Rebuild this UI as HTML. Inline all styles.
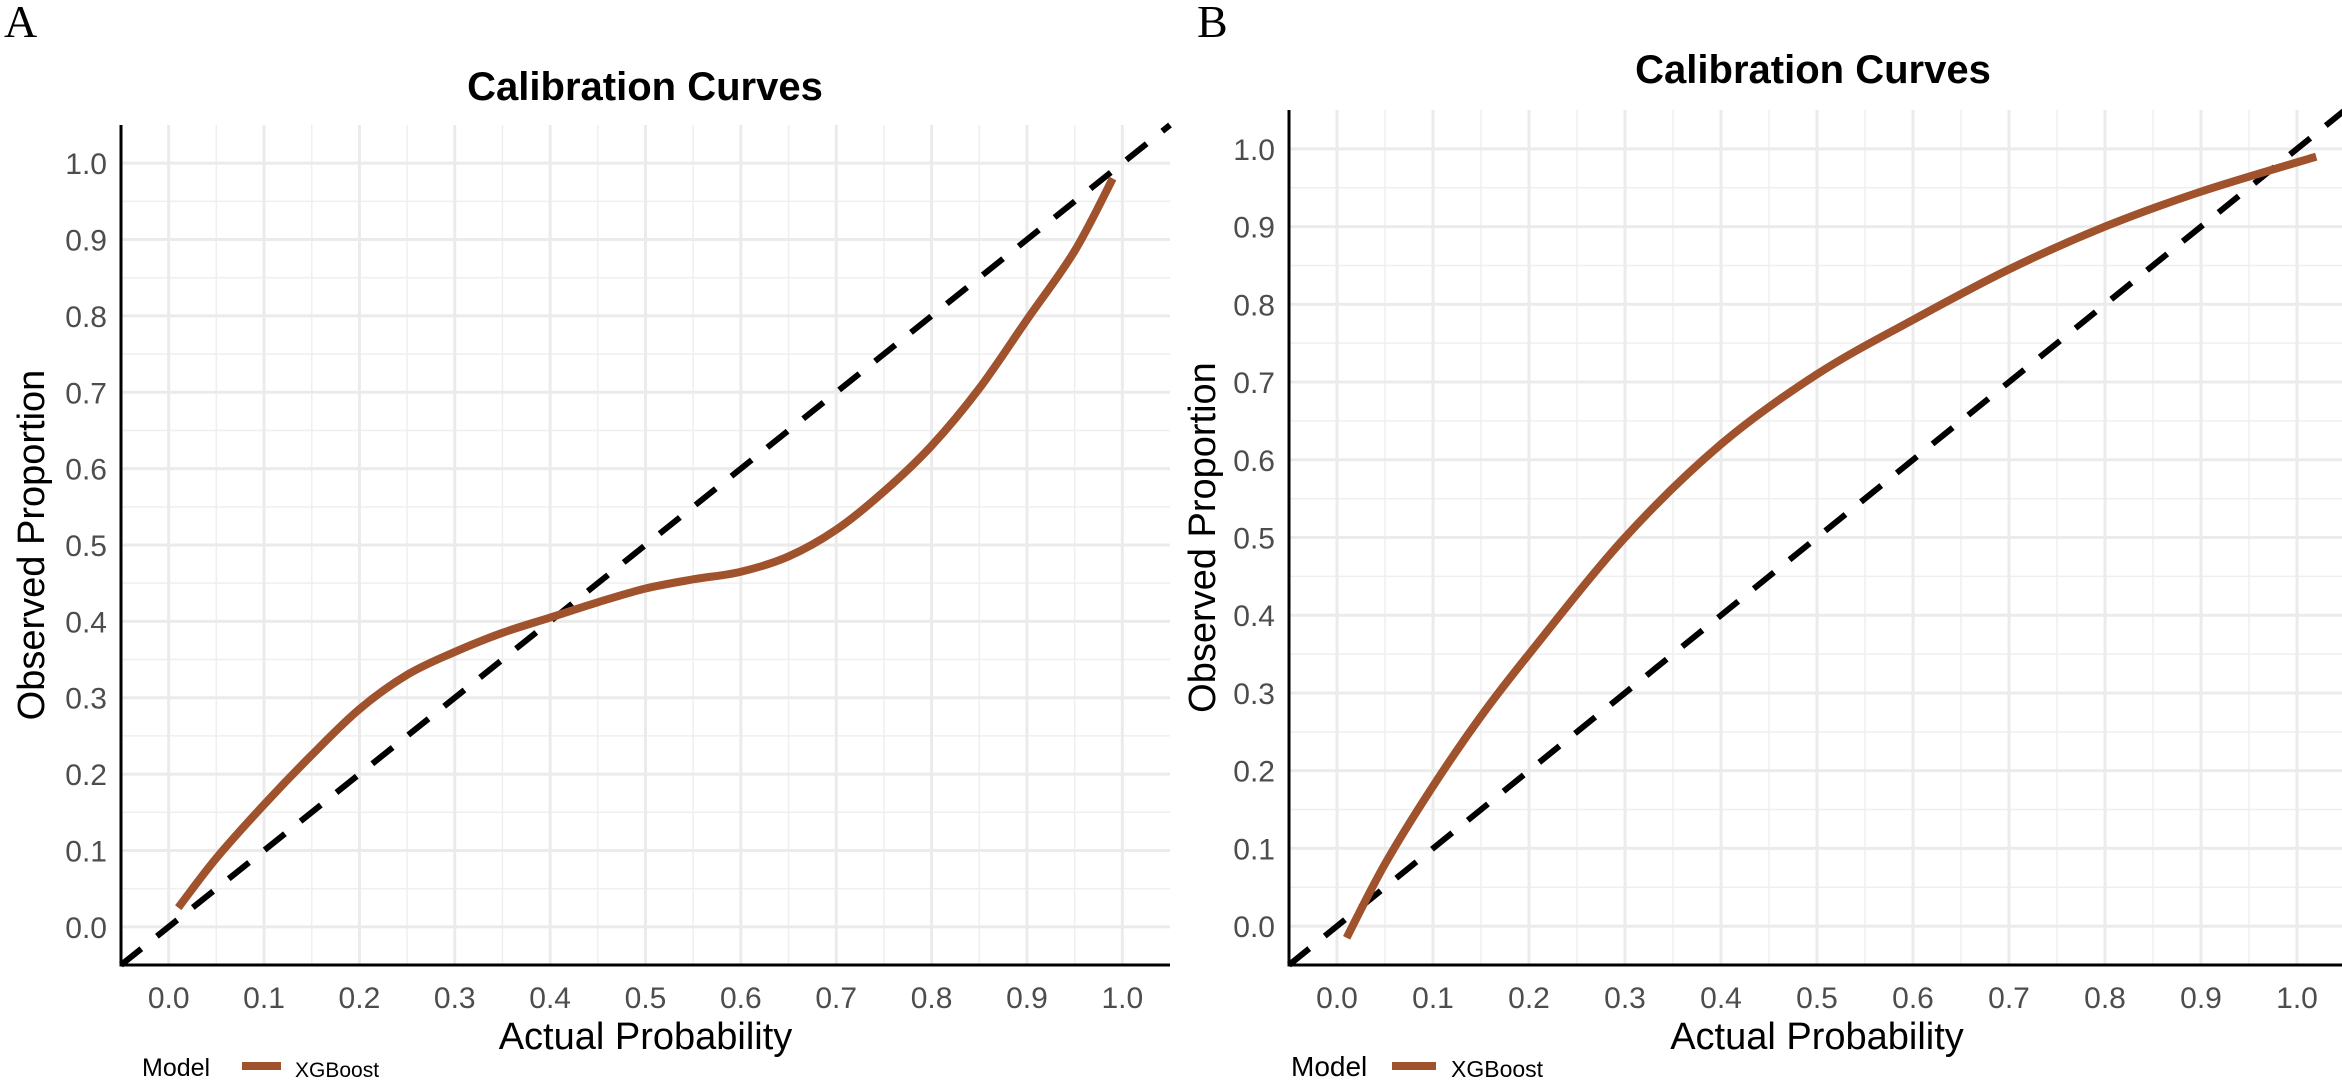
<!DOCTYPE html>
<html><head><meta charset="utf-8"><style>
html,body{margin:0;padding:0;background:#fff;}
svg{display:block;font-family:"Liberation Sans",Arial,sans-serif;}
</style></head><body>
<svg id="fig" width="2342" height="1089" viewBox="0 0 2342 1089" xmlns="http://www.w3.org/2000/svg">
<text x="4" y="37" font-family="Liberation Serif,serif" font-size="46">A</text>
<text x="1197" y="37" font-family="Liberation Serif,serif" font-size="46">B</text>
</svg>
<script>
// Panel A data
const xA = [0.01,0.05,0.1,0.15,0.2,0.25,0.3,0.35,0.4,0.45,0.5,0.55,0.6,0.65,0.7,0.75,0.8,0.85,0.9,0.95,0.99];
const yA = [0.025,0.09,0.16,0.225,0.285,0.33,0.36,0.385,0.405,0.425,0.443,0.455,0.465,0.485,0.52,0.57,0.63,0.705,0.795,0.885,0.98];
// Panel B data
const xB = [0.01,0.05,0.1,0.15,0.2,0.3,0.4,0.5,0.6,0.7,0.8,0.9,1.02];
const yB = [-0.015,0.08,0.18,0.27,0.35,0.5,0.62,0.71,0.78,0.845,0.9,0.945,0.99];
const ticks = [0,0.1,0.2,0.3,0.4,0.5,0.6,0.7,0.8,0.9,1.0];
const tickLabels = ["0.0","0.1","0.2","0.3","0.4","0.5","0.6","0.7","0.8","0.9","1.0"];
const refLine = [-0.05,1.05];

const NS="http://www.w3.org/2000/svg";
const svg=document.getElementById('fig');
function mk(tag,attrs,parent){const e=document.createElementNS(NS,tag);for(const k in attrs)e.setAttribute(k,attrs[k]);(parent||svg).appendChild(e);return e;}

function panel(p){
  const g=mk('g',{});
  
  
  const sx=v=>p.left+(v+0.05)/1.1*(p.right-p.left);
  const sy=v=>p.bottom-(v+0.05)/1.1*(p.bottom-p.top);
  for(let i=0;i<10;i++){
    const v=0.05+i*0.1;
    const l=mk('line',{x1:sx(v),x2:sx(v),y1:p.top,y2:p.bottom,stroke:'#efefef','stroke-width':1.5},g);
    
    
    const l2=mk('line',{x1:p.left,x2:p.right,y1:sy(v),y2:sy(v),stroke:'#efefef','stroke-width':1.5},g);
    
    
  }
  ticks.forEach((v,i)=>{
    const l=mk('line',{x1:sx(v),x2:sx(v),y1:p.top,y2:p.bottom,stroke:'#ebebeb','stroke-width':3},g);
    
    
    const l2=mk('line',{x1:p.left,x2:p.right,y1:sy(v),y2:sy(v),stroke:'#ebebeb','stroke-width':3},g);
    
    
    const t=mk('text',{x:sx(v),y:1008,'text-anchor':'middle','font-size':30,fill:'#4d4d4d'},g);
    t.textContent=tickLabels[i];
    
    
    const t2=mk('text',{x:p.left-14,y:sy(v)+11,'text-anchor':'end','font-size':30,fill:'#4d4d4d'},g);
    t2.textContent=tickLabels[i];
    
    
  });
  const ax=mk('line',{x1:p.left,x2:p.left,y1:p.top,y2:p.bottom+1.5,stroke:'#000','stroke-width':3},g);
  
  
  const ax2=mk('line',{x1:p.left,x2:p.right,y1:p.bottom,y2:p.bottom,stroke:'#000','stroke-width':3},g);
  
  
  const d=mk('line',{x1:sx(refLine[0]),y1:sy(refLine[0]),x2:sx(refLine[1]),y2:sy(refLine[1]),stroke:'#000','stroke-width':6,'stroke-dasharray':'26 20'},g);
  
  
  const pts=p.xs.map((x,i)=>[sx(x),sy(p.ys[i])]);
  let dstr='M'+pts[0][0]+','+pts[0][1];
  for(let i=0;i<pts.length-1;i++){
    const p0=pts[Math.max(i-1,0)],p1=pts[i],p2=pts[i+1],p3=pts[Math.min(i+2,pts.length-1)];
    const c1=[p1[0]+(p2[0]-p0[0])/6,p1[1]+(p2[1]-p0[1])/6];
    const c2=[p2[0]-(p3[0]-p1[0])/6,p2[1]-(p3[1]-p1[1])/6];
    dstr+=` C${c1[0]},${c1[1]} ${c2[0]},${c2[1]} ${p2[0]},${p2[1]}`;
  }
  const c=mk('path',{d:dstr,fill:'none',stroke:'#a0522d','stroke-width':8},g);
  
  
  const tt=mk('text',{x:p.titleX,y:p.titleY,'text-anchor':'middle','font-size':40,'font-weight':'bold',fill:'#000'},g);
  tt.textContent='Calibration Curves';
  
  
  const xt=mk('text',{x:(p.left+p.right)/2,y:1049,'text-anchor':'middle','font-size':38,fill:'#000'},g);
  xt.textContent='Actual Probability';
  
  
  const yt=mk('text',{x:0,y:0,'text-anchor':'middle','font-size':38,fill:'#000',transform:`translate(${p.ytX},${(p.top+p.bottom)/2}) rotate(-90)`},g);
  yt.textContent='Observed Proportion';
  
  
  const lg=mk('g',{},g);
  
  
  const lt=mk('text',{x:p.legX,y:1076,'font-size':p.legF1,fill:'#000'},lg);
  lt.textContent='Model';
  
  
  const ll=mk('line',{x1:p.legLine[0],x2:p.legLine[1],y1:1066,y2:1066,stroke:'#a0522d','stroke-width':8},lg);
  
  
  const le=mk('text',{x:p.legText,y:1077,'font-size':p.legF2,fill:'#000'},lg);
  le.textContent='XGBoost';
  
  
}
panel({id:'a',left:121,right:1170,top:125,bottom:965,xs:xA,ys:yA,titleX:645,titleY:100,ytX:44,legX:142,legLine:[242,281],legText:295,legF1:25,legF2:21});
panel({id:'b',left:1289,right:2345,top:110,bottom:965,xs:xB,ys:yB,titleX:1813,titleY:83,ytX:1215,legX:1291,legLine:[1392,1436],legText:1451,legF1:28,legF2:23});
</script>
</body></html>
